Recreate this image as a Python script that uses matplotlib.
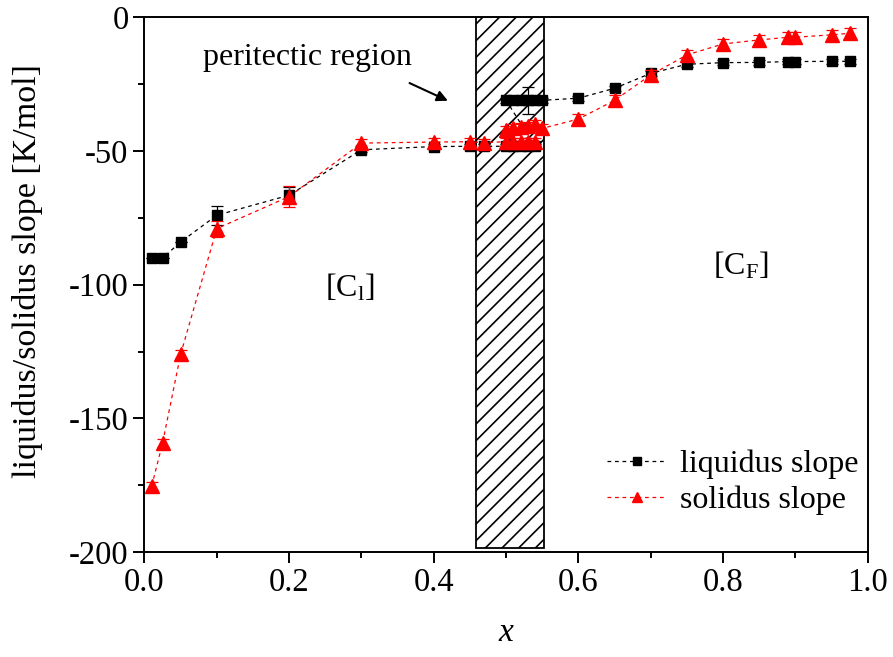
import matplotlib.pyplot as plt
from matplotlib.lines import Line2D
from matplotlib.patches import Rectangle
from matplotlib.ticker import FormatStrFormatter, MultipleLocator

plt.rcParams["font.family"] = "Liberation Serif"
plt.rcParams["mathtext.fontset"] = "custom"
plt.rcParams["mathtext.rm"] = "Liberation Serif"
plt.rcParams["mathtext.it"] = "Liberation Serif:italic"
plt.rcParams["axes.unicode_minus"] = False
plt.rcParams["hatch.linewidth"] = 1.2

# liquidus slope, lower and upper branch inside the peritectic window
liq_x = [0.01, 0.025, 0.05, 0.1, 0.2, 0.3, 0.4, 0.45, 0.47,
         0.50, 0.51, 0.52, 0.53, 0.54,
         0.50, 0.51, 0.52, 0.53, 0.54, 0.55,
         0.6, 0.65, 0.7, 0.75, 0.8, 0.85, 0.89, 0.9, 0.95, 0.975]
liq_y = [-90, -90, -84, -74, -66.5, -49.5, -48.3, -48.2, -48.2,
         -48.2, -48.2, -48.2, -48.2, -48.2,
         -31, -31, -31, -31, -31, -31,
         -30.2, -26.5, -20.9, -17.5, -16.9, -16.8, -16.5, -16.5, -16.4, -16.4]
liq_err = [0, 0, 0, 3.5, 3, 1, 1, 1, 1,
           1, 1, 1, 1, 1,
           1, 1, 1, 5, 1, 1,
           1, 1, 1, 1, 1, 1, 1, 1, 1, 1]

# solidus slope
sol_x = [0.01, 0.025, 0.05, 0.1, 0.2, 0.3, 0.4, 0.45, 0.47,
         0.50, 0.51, 0.52, 0.53, 0.54,
         0.50, 0.51, 0.52, 0.53, 0.54, 0.55,
         0.6, 0.65, 0.7, 0.75, 0.8, 0.85, 0.89, 0.9, 0.95, 0.975]
sol_y = [-175.3, -159.2, -126, -79, -67, -47, -46.6, -46.5, -46.8,
         -46.5, -46.5, -46.5, -46.5, -46.5,
         -42, -41.5, -41, -40.5, -40, -41.5,
         -38, -31, -21.5, -14, -9.9, -8.4, -7.4, -7.4, -6.5, -5.9]
sol_err = [1.5, 1.5, 1.5, 3, 4, 1.5, 1.5, 1.5, 1.5,
           1.5, 1.5, 1.5, 1.5, 1.5,
           1.5, 1.5, 1.5, 1.5, 1.5, 1.5,
           2, 2, 2, 2, 2, 2, 2, 2, 2, 2]

peritectic_x = (0.458, 0.553)
peritectic_y = (-198.5, 0)

fig = plt.figure(figsize=(8.93, 6.57), dpi=100)
ax = fig.add_axes([0.1618, 0.1598, 0.8099, 0.8136])

ax.add_patch(Rectangle((peritectic_x[0], peritectic_y[0]),
                       peritectic_x[1] - peritectic_x[0],
                       peritectic_y[1] - peritectic_y[0],
                       facecolor="white", edgecolor="black", hatch="//",
                       linewidth=1.3, zorder=1))

dash = (0, (3, 3))
ax.errorbar(liq_x, liq_y, yerr=liq_err, color="black", ls=dash, lw=0.9,
            marker="s", markersize=7, capsize=4, elinewidth=0.9, capthick=0.9,
            zorder=3)
ax.errorbar(sol_x, sol_y, yerr=sol_err, color="#ff0000", ls=dash, lw=0.9,
            marker="^", markersize=9.5, capsize=4, elinewidth=0.9, capthick=0.9,
            zorder=4)

ax.set_xlim(0, 1.0)
ax.set_ylim(-200, 0)
ax.xaxis.set_major_locator(MultipleLocator(0.2))
ax.xaxis.set_minor_locator(MultipleLocator(0.1))
ax.xaxis.set_major_formatter(FormatStrFormatter("%.1f"))
ax.yaxis.set_major_locator(MultipleLocator(50))
ax.yaxis.set_minor_locator(MultipleLocator(25))
ax.tick_params(which="major", direction="out", length=8, width=1.4, labelsize=23.5)
ax.tick_params(which="minor", direction="out", length=4, width=1.4)
for spine in ax.spines.values():
    spine.set_linewidth(1.4)

ax.set_xlabel("$x$", fontsize=24, labelpad=14)
ax.set_ylabel("liquidus/solidus slope [K/mol]", fontsize=24.5)
ax.yaxis.set_label_coords(-0.141, 0.525)

ax.text(0.225, -14.8, "peritectic region", fontsize=23, ha="center", va="center")
ax.annotate("", xy=(0.423, -31.6), xytext=(0.363, -24.1),
            arrowprops=dict(arrowstyle="-|>", color="black", lw=1.5,
                            mutation_scale=16))
ax.text(0.284, -101, r"[C$_\mathregular{l}$]", fontsize=23, ha="center", va="center")
ax.text(0.824, -93, r"[C$_\mathregular{F}$]", fontsize=23, ha="center", va="center")

handles = [
    Line2D([], [], color="black", ls=dash, lw=0.9, marker="s", markersize=7),
    Line2D([], [], color="#ff0000", ls=dash, lw=0.9, marker="^", markersize=9),
]
ax.legend(handles, ["liquidus slope", "solidus slope"], loc="lower right",
          bbox_to_anchor=(1.027, 0.015), frameon=False, fontsize=23,
          handlelength=1.9, handletextpad=0.4, labelspacing=0.2,
          markerscale=0.75)

fig.savefig("out.png", dpi=100)
